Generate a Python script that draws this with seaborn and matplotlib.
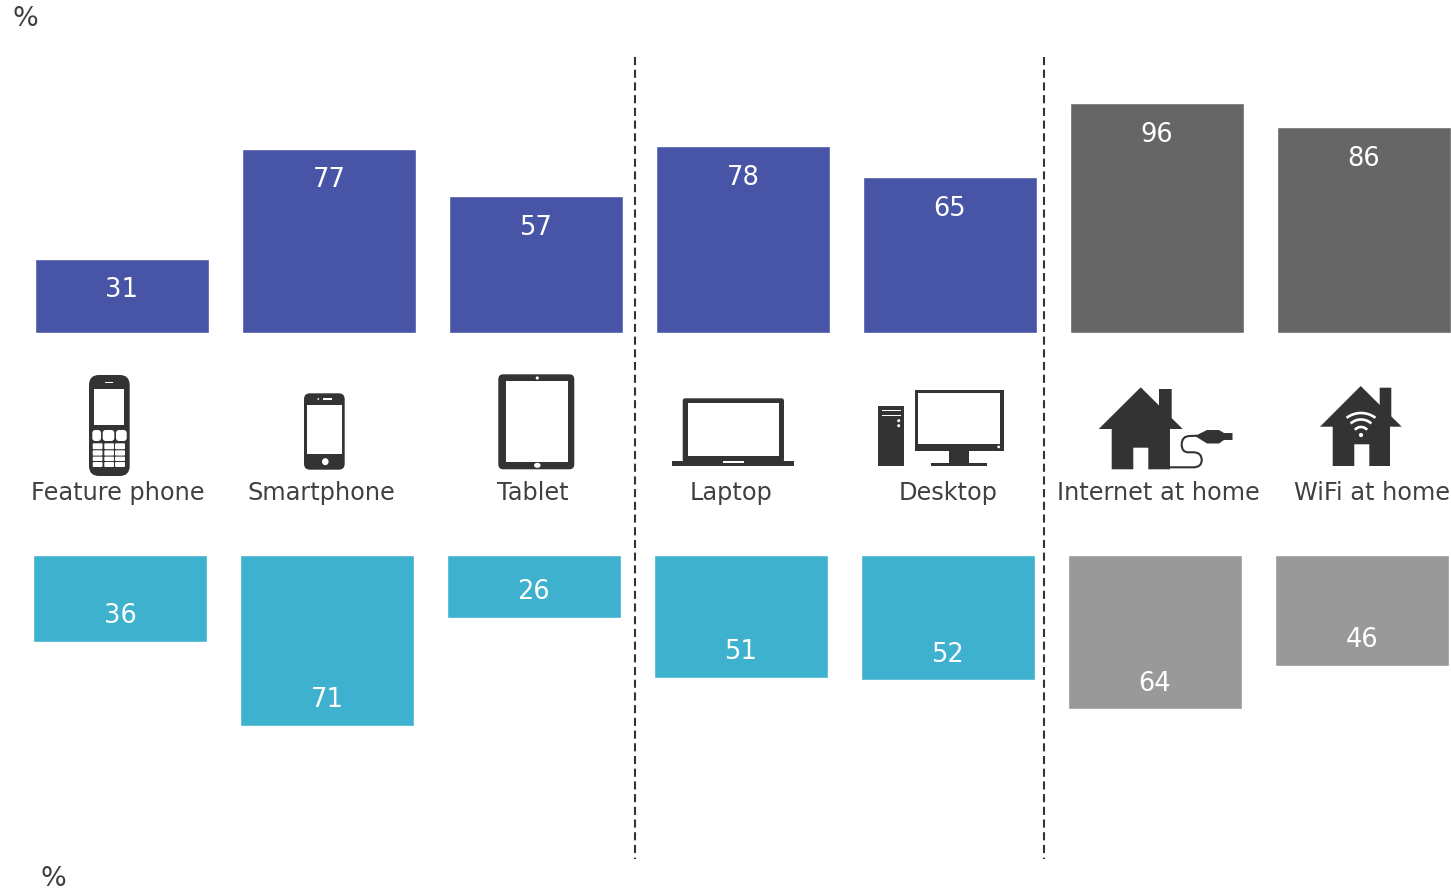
import matplotlib
matplotlib.use("Agg")
import matplotlib.pyplot as plt
import pandas as pd
import seaborn as sns
from matplotlib.patches import Arc, Circle, Ellipse, FancyBboxPatch, PathPatch, Polygon, Rectangle
from matplotlib.path import Path

categories = ["Feature phone", "Smartphone", "Tablet", "Laptop", "Desktop",
              "Internet at home", "WiFi at home"]
upper_values = [31, 77, 57, 78, 65, 96, 86]
lower_values = [36, 71, 26, 51, 52, 64, 46]

upper_colors = ["#4854a5"] * 5 + ["#666666"] * 2
lower_colors = ["#3eb1ce"] * 5 + ["#999999"] * 2

WIDTH, HEIGHT = 1451, 889
SPACING = 207.0
INK = "#333333"
TEXT = "#404040"
FONT = "DejaVu Sans"
CAPTION_SIZE = 17.3
VALUE_SIZE = 18.5
UNIT_SIZE = 19.5

sns.set_theme(style="white")
plt.rcParams["font.family"] = [FONT]

fig = plt.figure(figsize=(WIDTH / 100, HEIGHT / 100), dpi=100, facecolor="white")


def panel(top_px, bottom_px, first_center, values, colors, offset, px_per_unit):
    ax = fig.add_axes([0, 1 - bottom_px / HEIGHT, 1, (bottom_px - top_px) / HEIGHT])
    frame = pd.DataFrame({"item": categories, "value": values})
    sns.barplot(data=frame, x="item", y="value", hue="item", order=categories,
                hue_order=categories, palette=colors, width=173.6 / SPACING,
                saturation=1, legend=False, ax=ax)
    ax.set_xlim(-first_center / SPACING, (WIDTH - first_center) / SPACING)
    span = (bottom_px - top_px) / px_per_unit
    ax.set_ylim((span, 0) if offset > 0 else (0, span))
    ax.axis("off")
    # value labels sit just inside the outer end of each bar
    for i, v in enumerate(values):
        ax.annotate(str(v), (i, v), xytext=(0, offset), textcoords="offset points",
                    ha="center", va="center", color="white", fontsize=VALUE_SIZE)
    return ax


panel(0, 333, 121.9, upper_values, upper_colors, -22.8, 2.395)
panel(555.3, HEIGHT, 119.9, lower_values, lower_colors, 18.2, 2.4)

# Overlay in pixel units for separators, captions and device pictograms
ov = fig.add_axes([0, 0, 1, 1], facecolor="none")
ov.set_xlim(0, WIDTH)
ov.set_ylim(HEIGHT, 0)
ov.axis("off")


def rrect(x0, y0, x1, y1, r=0.0, color=INK, z=3):
    if r:
        ov.add_patch(FancyBboxPatch((x0, y0), x1 - x0, y1 - y0,
                                    boxstyle=f"round,pad=0,rounding_size={r}",
                                    fc=color, ec="none", zorder=z))
    else:
        ov.add_patch(Rectangle((x0, y0), x1 - x0, y1 - y0, fc=color, ec="none", zorder=z))


def feature_phone():
    rrect(89, 375, 129.7, 476, 10)
    rrect(94, 389, 124.3, 425, 0, "white", 4)
    rrect(104.7, 382, 112.7, 383.4, 0, "white", 4)
    for a, b in [(92.3, 101), (102.7, 114.3), (116, 126.7)]:
        rrect(a, 430, b, 441, 3, "white", 4)
    for top, bot in [(443.3, 449.2), (450.3, 455.6), (456.6, 461), (462, 467)]:
        for a, b in [(92.7, 102.5), (104.3, 114), (115, 125)]:
            rrect(a, top, b, bot, 1, "white", 4)


def smartphone():
    rrect(304, 393.3, 344.7, 469.7, 6)
    rrect(307, 405, 342, 454.3, 0, "white", 4)
    rrect(322.7, 398.3, 332, 399.7, 0, "white", 4)
    ov.add_patch(Circle((318.3, 399), 0.9, fc="white", ec="none", zorder=4))
    ov.add_patch(Ellipse((325.3, 461.7), 6.6, 7, fc="white", ec="none", zorder=4))


def tablet():
    rrect(498.3, 374.3, 574.3, 469.3, 5)
    rrect(506, 380.7, 568.3, 462.3, 0, "white", 4)
    ov.add_patch(Circle((537.3, 378), 1.6, fc="white", ec="none", zorder=4))
    ov.add_patch(Ellipse((537.3, 465.3), 6.6, 5, fc="white", ec="none", zorder=4))


def laptop():
    rrect(682.7, 398.3, 784, 462, 2.5)
    rrect(687.7, 402.7, 779, 456, 0, "white", 4)
    rrect(672, 461.3, 794.3, 465.7)
    rrect(722.7, 461.3, 744, 462.8, 0, "white", 4)


def desktop():
    rrect(878, 406, 904, 465.7)
    rrect(882, 409.5, 901, 410.6, 0, "white", 4)
    rrect(882, 414.5, 901, 415.6, 0, "white", 4)
    for y in (420.7, 425.7):
        ov.add_patch(Circle((898.7, y), 1.5, fc="white", ec="none", zorder=4))
    rrect(914.7, 389.7, 1004, 450.7)
    rrect(918.3, 393.3, 1000.3, 444, 0, "white", 4)
    ov.add_patch(Circle((998.7, 446.9), 1.4, fc="white", ec="none", zorder=4))
    rrect(949.3, 450.7, 969.3, 463.5)
    rrect(931.3, 463.3, 987, 465.7)


def house(apex, left, right, chimney, body, door, floor):
    slope = (right[1] - apex[1]) / (right[0] - apex[0])
    roof_y = lambda x: apex[1] + (x - apex[0]) * slope
    pts = [apex, (chimney[0], roof_y(chimney[0])), (chimney[0], chimney[2]),
           (chimney[1], chimney[2]), (chimney[1], roof_y(chimney[1])), right,
           (body[1], right[1]), (body[1], floor), (door[1], floor), (door[1], door[2]),
           (door[0], door[2]), (door[0], floor), (body[0], floor), (body[0], left[1]), left]
    ov.add_patch(Polygon(pts, closed=True, fc=INK, ec="none", zorder=3))


def internet_home():
    house((1140.7, 387.3), (1098.7, 429), (1182.7, 429), (1159, 1171.7, 389),
          (1111.7, 1170), (1133.3, 1148.3, 447.7), 469.3)
    # power cable looping from the wall out to the plug
    cable = Path([(1170, 467.3), (1193.3, 467.3),
                  (1201.7, 467.3), (1201.7, 460),
                  (1201.7, 452.3), (1193.3, 452.3),
                  (1188.3, 452.3),
                  (1181.7, 452.3), (1181.7, 444.5),
                  (1181.7, 436), (1190, 436),
                  (1197, 435.7)],
                 [Path.MOVETO, Path.LINETO,
                  Path.CURVE3, Path.CURVE3,
                  Path.CURVE3, Path.CURVE3,
                  Path.LINETO,
                  Path.CURVE3, Path.CURVE3,
                  Path.CURVE3, Path.CURVE3,
                  Path.LINETO])
    ov.add_patch(PathPatch(cable, fc="none", ec=INK, lw=1.5, zorder=3))
    plug = [(1195, 436), (1207, 430), (1219, 430), (1224, 433), (1232.5, 433),
            (1232.5, 440), (1224, 440), (1219, 443.5), (1207, 443.5)]
    ov.add_patch(Polygon(plug, closed=True, fc=INK, ec="none", zorder=3))


def wifi_home():
    house((1360.7, 386), (1320, 426.7), (1401.7, 426.7), (1379.7, 1391.3, 387.7),
          (1332.7, 1390), (1354.3, 1369.3, 444.3), 466)
    ov.add_patch(Circle((1361, 435), 2.1, fc="white", ec="none", zorder=4))
    for r, half, y in [(8, 50, 435), (15.5, 42, 435), (24, 37, 437)]:
        ov.add_patch(Arc((1361, y), 2 * r, 2 * r, theta1=270 - half,
                         theta2=270 + half, ec="white", lw=1.9, zorder=4))


for draw in (feature_phone, smartphone, tablet, laptop, desktop, internet_home, wifi_home):
    draw()

# Dashed separators between device groups
for x in (635, 1044):
    ov.plot([x, x], [57, 858.5], color=INK, lw=1.5, dashes=(3.9, 2.2), zorder=2)

# Captions between the two bar rows, on a shared baseline
caption_x = [118, 321.5, 533, 731, 948.5, 1158, 1371.5]
for x, name in zip(caption_x, categories):
    ov.text(x, 500, name, ha="center", va="baseline", color=TEXT, fontsize=CAPTION_SIZE)

ov.text(25, 19.5, "%", ha="center", va="center", color=TEXT, fontsize=UNIT_SIZE)
ov.text(53, 878.5, "%", ha="center", va="center", color=TEXT, fontsize=UNIT_SIZE)

fig.savefig("out.png", dpi=100, facecolor="white")
